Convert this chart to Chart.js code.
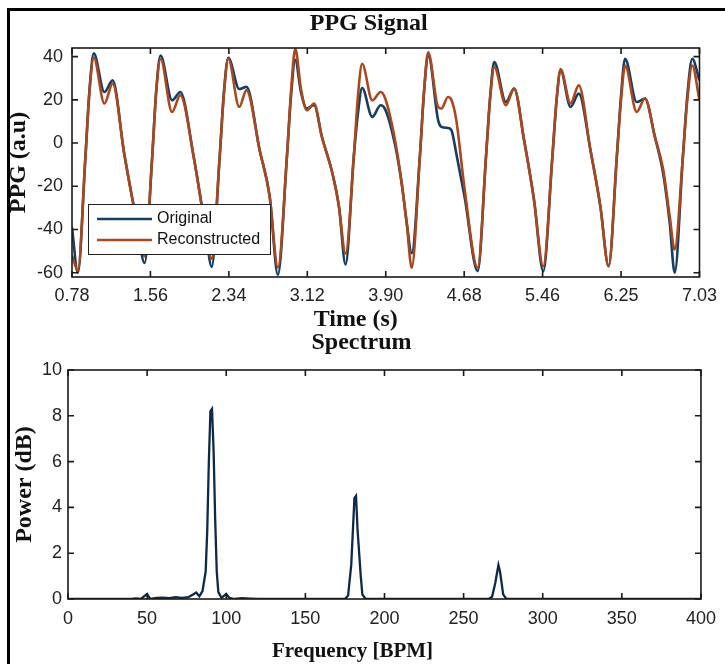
<!DOCTYPE html>
<html>
<head>
<meta charset="utf-8">
<title>PPG Signal</title>
<script src="https://cdn.jsdelivr.net/npm/chart.js@4.4.1/dist/chart.umd.min.js"></script>
<style>
  html, body { margin: 0; padding: 0; background: #fff; }
  #wrap { position: relative; width: 725px; height: 664px; overflow: hidden; }
  canvas { position: absolute; left: 0; }
  #ppgChart { top: 0; }
  #specChart { top: 332px; }
  .frame { position: absolute; left: 7px; top: 8px; width: 760px; height: 700px;
           border-left: 3px solid #000; border-top: 3px solid #000; pointer-events: none; }
</style>
</head>
<body>
<div id="wrap">
  <canvas id="ppgChart" width="725" height="332"></canvas>
  <canvas id="specChart" width="725" height="332"></canvas>
  <div class="frame"></div>
</div>
<script>
// ---- data ----
var timeSec = [0.781, 0.84, 0.913, 0.956, 0.998, 1.104, 1.186, 1.301, 1.416, 1.505,
  1.578, 1.621, 1.663, 1.778, 1.86, 1.993, 2.107, 2.173,
  2.25, 2.295, 2.338, 2.447, 2.519, 2.65, 2.75, 2.832,
  2.922, 2.963, 3.005, 3.062, 3.12, 3.193, 3.27, 3.375, 3.44, 3.506,
  3.588, 3.63, 3.671, 3.772, 3.855, 3.901, 4.0, 4.065, 4.115, 4.165,
  4.246, 4.288, 4.329, 4.428, 4.461, 4.526, 4.56, 4.609, 4.691, 4.822,
  4.905, 4.947, 4.987, 5.103, 5.185, 5.284, 5.383, 5.475,
  5.566, 5.608, 5.648, 5.747, 5.829, 5.945, 6.044, 6.126,
  6.208, 6.25, 6.29, 6.406, 6.488, 6.587, 6.669, 6.735, 6.784,
  6.866, 6.91, 6.959, 7.031];

var ppgOriginal = [-39, -60, -8, 25, 41.5, 23.6, 29, -4.8, -34, -55.5,
  -8, 25, 40.5, 19.8, 23.6, -6.3, -38.6, -57.3,
  -8, 24, 39.5, 25, 26, -3.2, -24.7, -61,
  -6.3, 22, 38.5, 23.5, 16, 17.5, 2.9, -14, -29.3, -56.2,
  -6.3, 14, 25.5, 12.1, 17.5, 15.6, -1, -18.6, -36.9, -51,
  -6.3, 24, 41, 10.6, 7.5, 7, 6, -4.8, -24.7, -59.3,
  -6.3, 22, 37.5, 19, 25.2, 1.4, -26.3, -59.3,
  -6.3, 20, 33.6, 16.7, 22.9, -3.2, -29.3, -57,
  -6.3, 22, 39, 19, 20.6, 2.9, -14, -37, -60,
  -6.3, 22, 39, 29];

var ppgReconstructed = [-52, -59, -8, 24, 39.5, 18.3, 27.5, -4.8, -34, -52.5,
  -8, 24, 39, 14.4, 22.1, -6.3, -38.6, -53.5,
  -8, 23, 39, 16.7, 24.5, -3.2, -24.7, -57.5,
  -6.3, 24, 43.6, 25, 15.2, 18.3, 2.9, -14, -29.3, -51.2,
  -6.3, 22, 36.7, 19.8, 23.6, 20.6, 1, -18.6, -36.9, -57.7,
  -6.3, 24, 42, 16.7, 16, 21.3, 20, 10.6, -21, -57.7,
  -6.3, 21, 35.2, 17.5, 25.2, 1.4, -26.3, -57,
  -6.3, 20, 34.2, 18.3, 26.7, -3.2, -29.3, -57,
  -6.3, 20, 35.9, 14.4, 20.6, 2.9, -12, -34, -49.3,
  -6.3, 20, 35.9, 19.8];

var timeTicks = [0.78125, 1.5625, 2.34375, 3.125, 3.90625, 4.6875, 5.46875, 6.25, 7.03125];
var timeTickLabels = ['0.78', '1.56', '2.34', '3.12', '3.90', '4.68', '5.46', '6.25', '7.03'];
var ppgTicks = [-60, -40, -20, 0, 20, 40];

var freqBpm = [0, 40, 43, 46, 50, 52, 56, 60, 64, 68, 72, 76, 79, 81, 83, 85, 87, 88, 89, 90,
  91, 92, 93, 94, 95, 97, 100, 102, 105, 110, 115, 120, 175, 177, 179, 181, 182, 183, 185, 186,
  188, 266, 268, 270, 272, 273, 275, 277, 400];
var powerDb = [0, 0, 0.03, 0, 0.22, 0, 0.05, 0.06, 0.04, 0.08, 0.05, 0.08, 0.2, 0.28, 0.12, 0.35, 1.2, 3.0, 6.0, 8.2,
  8.3, 6.5, 3.5, 1.2, 0.3, 0.05, 0.22, 0.05, 0, 0.04, 0.02, 0, 0, 0.15, 1.5, 4.4, 4.5, 3.0, 1.0, 0.2,
  0, 0, 0.1, 0.7, 1.48, 1.2, 0.2, 0, 0];

var tickFont = { family: '"Liberation Sans", Arial, sans-serif', size: 18 };
var titleFont = '"Liberation Serif", "Times New Roman", serif';

// box around the plot area with inward tick marks on all four sides
var boxAxes = {
  id: 'boxAxes',
  afterDatasetsDraw: function(chart) {
    var ctx = chart.ctx, a = chart.chartArea, x = chart.scales.x, y = chart.scales.y;
    var len = 6;
    ctx.save();
    ctx.strokeStyle = '#1a1a1a';
    ctx.lineWidth = 1.6;
    ctx.strokeRect(a.left, a.top, a.right - a.left, a.bottom - a.top);
    ctx.beginPath();
    x.ticks.forEach(function(t) {
      var px = x.getPixelForValue(t.value);
      ctx.moveTo(px, a.bottom); ctx.lineTo(px, a.bottom - len);
      ctx.moveTo(px, a.top); ctx.lineTo(px, a.top + len);
    });
    y.ticks.forEach(function(t) {
      var py = y.getPixelForValue(t.value);
      ctx.moveTo(a.left, py); ctx.lineTo(a.left + len, py);
      ctx.moveTo(a.right, py); ctx.lineTo(a.right - len, py);
    });
    ctx.stroke();
    ctx.restore();
  }
};

// titles above and below the plot, placed like the MATLAB figure
var figTitles = {
  id: 'figTitles',
  afterDraw: function(chart, args, o) {
    var ctx = chart.ctx, a = chart.chartArea;
    var cx = (a.left + a.right) / 2;
    ctx.save();
    ctx.fillStyle = '#111';
    ctx.textAlign = 'center';
    ctx.textBaseline = 'middle';
    ctx.font = 'bold ' + o.titleSize + 'px ' + titleFont;
    ctx.fillText(o.title, cx + o.titleShift, a.top - o.titleGap);
    ctx.font = 'bold ' + o.xTitleSize + 'px ' + titleFont;
    ctx.fillText(o.xTitle, cx + o.xTitleShift, a.bottom + o.xTitleGap);
    ctx.restore();
  }
};

// legend box inside the lower left corner of the plot
var insetLegend = {
  id: 'insetLegend',
  afterDraw: function(chart) {
    var ctx = chart.ctx, a = chart.chartArea;
    var w = 182, h = 50;
    var x0 = a.left + 16, y0 = a.bottom - 23 - h;
    ctx.save();
    ctx.fillStyle = '#fff';
    ctx.fillRect(x0, y0, w, h);
    ctx.strokeStyle = '#222';
    ctx.lineWidth = 1;
    ctx.strokeRect(x0 + 0.5, y0 + 0.5, w, h);
    ctx.font = '16px "Liberation Sans", Arial, sans-serif';
    ctx.textBaseline = 'middle';
    chart.data.datasets.forEach(function(ds, i) {
      var cy = y0 + 15 + i * 21;
      ctx.strokeStyle = ds.borderColor;
      ctx.lineWidth = 2.5;
      ctx.beginPath();
      ctx.moveTo(x0 + 9, cy);
      ctx.lineTo(x0 + 64, cy);
      ctx.stroke();
      ctx.fillStyle = '#111';
      ctx.fillText(ds.label, x0 + 69, cy);
    });
    ctx.restore();
  }
};

function points(xs, ys) {
  return xs.map(function(v, i) { return { x: v, y: ys[i] }; });
}

new Chart(document.getElementById('ppgChart'), {
  type: 'line',
  data: {
    datasets: [{
      label: 'Original',
      data: points(timeSec, ppgOriginal),
      borderColor: '#163d63',
      borderWidth: 2.6,
      pointRadius: 0,
      fill: false,
      cubicInterpolationMode: 'monotone',
      order: 1
    }, {
      label: 'Reconstructed',
      data: points(timeSec, ppgReconstructed),
      borderColor: '#a9481f',
      borderWidth: 2.6,
      pointRadius: 0,
      fill: false,
      cubicInterpolationMode: 'monotone',
      order: 0
    }]
  },
  options: {
    responsive: false,
    animation: false,
    layout: { padding: { top: 48, right: 20, left: 0, bottom: 0 } },
    plugins: {
      legend: { display: false },
      tooltip: { enabled: false },
      figTitles: {
        title: 'PPG Signal', titleSize: 24, titleShift: -17, titleGap: 24,
        xTitle: 'Time (s)', xTitleSize: 24, xTitleShift: -30, xTitleGap: 43
      }
    },
    scales: {
      x: {
        type: 'linear',
        min: timeTicks[0],
        max: timeTicks[timeTicks.length - 1],
        afterBuildTicks: function(s) { s.ticks = timeTicks.map(function(v) { return { value: v }; }); },
        afterFit: function(s) { s.height = 55; },
        grid: { display: false, drawTicks: false },
        border: { display: false },
        ticks: {
          autoSkip: false, maxRotation: 0, padding: 8, color: '#222', font: tickFont,
          callback: function(v, i) { return timeTickLabels[i]; }
        }
      },
      y: {
        min: -62,
        max: 44,
        afterBuildTicks: function(s) { s.ticks = ppgTicks.map(function(v) { return { value: v }; }); },
        afterFit: function(s) { s.width = 72; },
        grid: { display: false, drawTicks: false },
        border: { display: false },
        ticks: { padding: 9, color: '#222', font: tickFont },
        title: {
          display: true, text: 'PPG (a.u)', color: '#111',
          font: { family: titleFont, size: 24, weight: 'bold', lineHeight: 1 },
          padding: { top: 7, bottom: 0 }
        }
      }
    }
  },
  plugins: [boxAxes, figTitles, insetLegend]
});

new Chart(document.getElementById('specChart'), {
  type: 'line',
  data: {
    datasets: [{
      label: 'Spectrum',
      data: points(freqBpm, powerDb),
      borderColor: '#0e2a48',
      borderWidth: 2.3,
      pointRadius: 0,
      fill: false,
      tension: 0
    }]
  },
  options: {
    responsive: false,
    animation: false,
    layout: { padding: { top: 38, right: 24, left: 0, bottom: 0 } },
    plugins: {
      legend: { display: false },
      tooltip: { enabled: false },
      figTitles: {
        title: 'Spectrum', titleSize: 24, titleShift: -23, titleGap: 27,
        xTitle: 'Frequency [BPM]', xTitleSize: 21, xTitleShift: -32, xTitleGap: 53
      }
    },
    scales: {
      x: {
        type: 'linear',
        min: 0,
        max: 400,
        afterFit: function(s) { s.height = 65; },
        grid: { display: false, drawTicks: false },
        border: { display: false },
        ticks: { stepSize: 50, autoSkip: false, maxRotation: 0, padding: 9, color: '#222', font: tickFont }
      },
      y: {
        min: 0,
        max: 10,
        afterFit: function(s) { s.width = 68; },
        grid: { display: false, drawTicks: false },
        border: { display: false },
        ticks: { stepSize: 2, padding: 6, color: '#222', font: tickFont },
        title: {
          display: true, text: 'Power (dB)', color: '#111',
          font: { family: titleFont, size: 24, weight: 'bold', lineHeight: 1 },
          padding: { top: 13, bottom: 0 }
        }
      }
    }
  },
  plugins: [boxAxes, figTitles]
});
</script>
</body>
</html>
